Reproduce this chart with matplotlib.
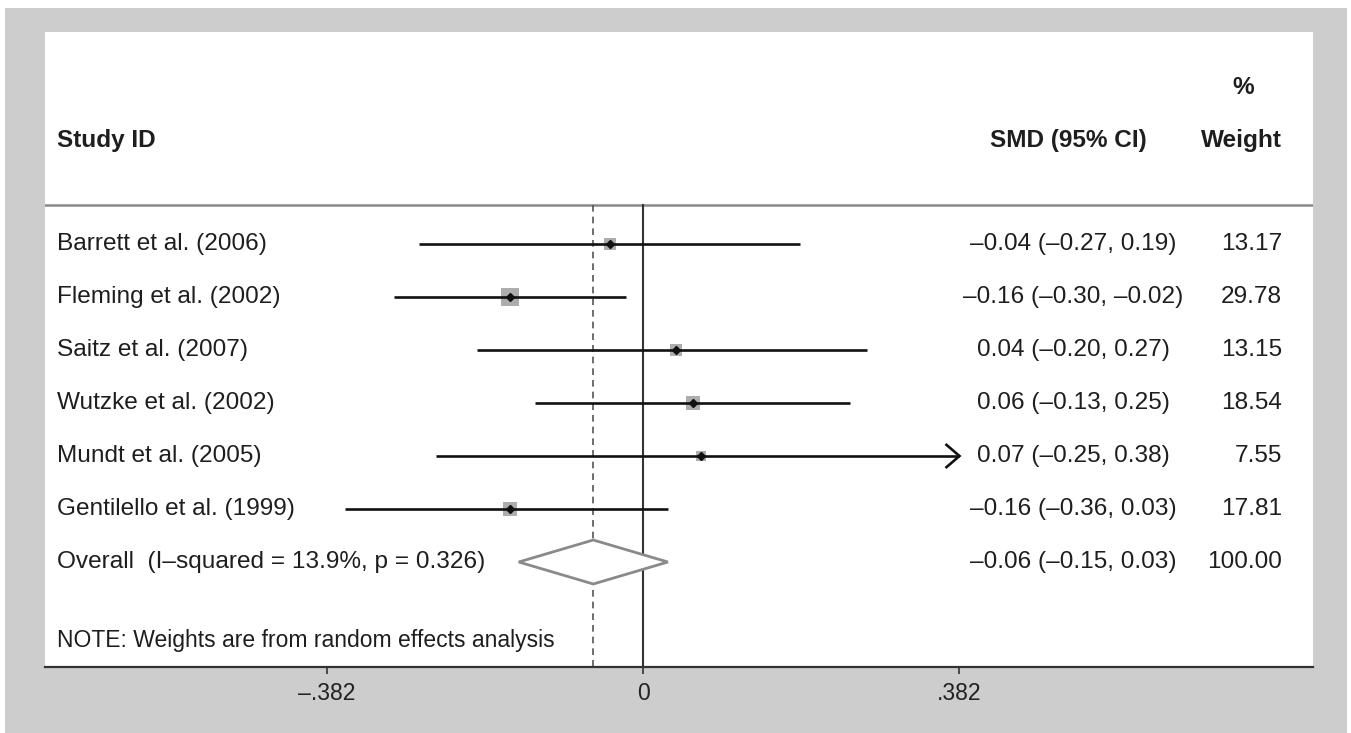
import matplotlib
matplotlib.use("Agg")
import matplotlib.pyplot as plt
from matplotlib.patches import Rectangle, Polygon
import numpy as np

plt.rcParams['font.family'] = ['Liberation Sans', 'DejaVu Sans']

# ---------------- data ----------------
studies = ["Barrett et al. (2006)", "Fleming et al. (2002)", "Saitz et al. (2007)",
           "Wutzke et al. (2002)", "Mundt et al. (2005)", "Gentilello et al. (1999)"]
smd = [-0.04, -0.16, 0.04, 0.06, 0.07, -0.16]
ci_low = [-0.27, -0.30, -0.20, -0.13, -0.25, -0.36]
ci_high = [0.19, -0.02, 0.27, 0.25, 0.384, 0.03]   # Mundt upper bound just beyond axis (shown as 0.38)
weights = [13.17, 29.78, 13.15, 18.54, 7.55, 17.81]
smd_labels = ["–0.04 (–0.27, 0.19)", "–0.16 (–0.30, –0.02)", "0.04 (–0.20, 0.27)",
              "0.06 (–0.13, 0.25)", "0.07 (–0.25, 0.38)", "–0.16 (–0.36, 0.03)"]
weight_labels = ["13.17", "29.78", "13.15", "18.54", "7.55", "17.81"]

overall_label = "Overall  (I–squared = 13.9%, p = 0.326)"
overall_smd = -0.06
overall_low = -0.15
overall_high = 0.03
overall_smd_label = "–0.06 (–0.15, 0.03)"
overall_weight_label = "100.00"
note = "NOTE: Weights are from random effects analysis"

xticks = [-0.382, 0, 0.382]
xtick_labels = ["–.382", "0", ".382"]
clip_max = 0.382  # CI display limit (arrow beyond)

# ---------------- layout ----------------
W, H = 1351, 733
fig = plt.figure(figsize=(W / 100, H / 100), dpi=100)
fig.patch.set_facecolor("white")

bg = fig.add_axes([0, 0, 1, 1], zorder=0)
bg.set_xlim(0, W)
bg.set_ylim(H, 0)
bg.axis("off")
bg.add_patch(Rectangle((5, 8), 1342, H - 8, facecolor="#cdcdcd", edgecolor="none"))

pl, pr, pt, pb = 45, 1313, 32, 667
ax = fig.add_axes([pl / W, (H - pb) / H, (pr - pl) / W, (pb - pt) / H], zorder=1)
ax.set_facecolor("white")

x0px = 643
scale = 828.5
ax.set_xlim((pl - x0px) / scale, (pr - x0px) / scale)
row_px = 53.0
first_row = 244
ax.set_ylim((pb - first_row) / row_px, (pt - first_row) / row_px)

for s in ["top", "left", "right"]:
    ax.spines[s].set_visible(False)
ax.spines["bottom"].set_color("#333333")
ax.spines["bottom"].set_linewidth(1.6)
ax.set_yticks([])
ax.set_xticks(xticks)
ax.set_xticklabels(xtick_labels, fontsize=16.5, color="#222222")
ax.tick_params(axis="x", direction="out", length=5, width=1.2, color="#333333", pad=6)

txt = "#1e1e1e"
fs = 17.6
sep_y = (205 - first_row) / row_px
ybot = (pb - first_row) / row_px

# header
ax.axhline(sep_y, color="#8a8a8a", lw=1.8, zorder=1)
hdr_y = (140 - first_row) / row_px
pct_y = (88 - first_row) / row_px
lab_x = (57 - x0px) / scale
smd_x = (1073 - x0px) / scale
wt_x = (1282 - x0px) / scale
pct_x = (1243 - x0px) / scale
ax.text(lab_x, hdr_y, "Study ID", fontsize=fs, fontweight="bold", color=txt, va="center", ha="left")
ax.text(smd_x - 0.005, hdr_y, "SMD (95% CI)", fontsize=fs, fontweight="bold", color=txt, va="center", ha="center")
ax.text(wt_x, hdr_y, "Weight", fontsize=fs, fontweight="bold", color=txt, va="center", ha="right")
ax.text(pct_x, pct_y, "%", fontsize=fs, fontweight="bold", color=txt, va="center", ha="center")

# reference lines
ax.plot([0, 0], [sep_y, ybot], color="#333333", lw=1.5, zorder=2)
ax.plot([overall_smd, overall_smd], [sep_y, ybot], color="#555555", lw=1.2,
        ls=(0, (4, 3)), zorder=2)

# studies
px_per_pt = 100 / 72
head_dx = 14 / scale          # arrow head length (data units)
head_dy = 12 / row_px         # arrow head half height (row units)
for i, (name, m, lo, hi, w, sl, wl) in enumerate(zip(studies, smd, ci_low, ci_high,
                                                    weights, smd_labels, weight_labels)):
    y = i
    side_px = 3.3 * np.sqrt(w)
    side_pt = side_px / px_per_pt
    ax.scatter([m], [y], marker="s", s=side_pt ** 2, color="#adadad", zorder=3, linewidths=0)
    if hi > clip_max:
        ax.plot([lo, clip_max], [y, y], color="#111111", lw=1.9, zorder=4, solid_capstyle="butt")
        ax.plot([clip_max - head_dx, clip_max, clip_max - head_dx],
                [y - head_dy, y, y + head_dy], color="#111111", lw=1.9, zorder=4,
                solid_joinstyle="miter", solid_capstyle="butt")
    else:
        ax.plot([lo, hi], [y, y], color="#111111", lw=1.9, zorder=4, solid_capstyle="butt")
    ax.plot([m], [y], marker="D", ms=4.5, color="#111111", zorder=5)
    ax.text(lab_x, y, name, fontsize=fs, color=txt, va="center", ha="left")
    ax.text(smd_x, y, sl, fontsize=fs, color=txt, va="center", ha="center")
    ax.text(wt_x, y, wl, fontsize=fs, color=txt, va="center", ha="right")

# overall
yo = len(studies)
hd = 22 / row_px
diamond = Polygon([(overall_low, yo), (overall_smd, yo - hd), (overall_high, yo),
                   (overall_smd, yo + hd)], closed=True, facecolor="white",
                  edgecolor="#8a8a8a", lw=2.0, zorder=4)
ax.add_patch(diamond)
ax.text(lab_x, yo, overall_label, fontsize=fs, color=txt, va="center", ha="left")
ax.text(smd_x, yo, overall_smd_label, fontsize=fs, color=txt, va="center", ha="center")
ax.text(wt_x, yo, overall_weight_label, fontsize=fs, color=txt, va="center", ha="right")

note_y = (640 - first_row) / row_px
ax.text(lab_x, note_y, note, fontsize=16.5, color=txt, va="center", ha="left")

fig.savefig("out.png", dpi=100, facecolor=fig.get_facecolor())
